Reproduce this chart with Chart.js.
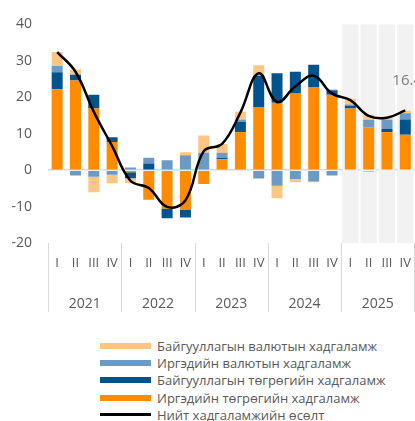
<!DOCTYPE html>
<html>
<head>
<meta charset="utf-8">
<script src="https://cdn.jsdelivr.net/npm/chart.js@4.4.1/dist/chart.umd.min.js"></script>
<style>
    body { margin: 0; background: #fff; width: 415px; height: 421px; overflow: hidden; }
    #wrap { position: relative; width: 415px; height: 325px; }
    #legend { padding: 12px 0 0 100px; font-family: "Open Sans", sans-serif; font-size: 13px; color: #595959; }
    .item { display: flex; align-items: center; height: 17.3px; white-space: nowrap; }
    .swatch { width: 51px; margin-right: 6px; }
</style>
</head>
<body>
<div id="wrap"><canvas id="depositChart"></canvas></div>
<div id="legend"></div>
<script>
const years = ['2021', '2022', '2023', '2024', '2025'];
const quarters = ['I', 'II', 'III', 'IV'];
const shadedYear = '2025';

// хувь нэмэр, нэгжээр
const hhMnt = [22.2, 24.6, 16.9, 7.7, -0.6, -8.1, -10.5, -10.8, -3.8, 3.0, 10.4, 17.2, 18.5, 21.2, 22.8, 20.7, 16.9, 11.8, 10.4, 9.7];
const orgMnt = [4.7, 1.6, 3.8, 1.3, -1.6, 1.8, -2.7, -2.2, 0, 0.4, 2.9, 8.7, 8.1, 5.8, 6.1, 1.2, 0.7, -0.3, 0.9, 4.2];
const hhFx = [1.7, -1.5, -1.8, -1.3, 0.7, 1.6, 2.7, 4.1, 4.8, 1.4, 0.6, -2.3, -4.3, -2.4, -3.1, -1.5, 0.4, 2.0, 2.5, 1.7];
const orgFx = [3.8, 1.4, -4.3, -2.3, -1.3, 0, 0, 0.8, 4.7, 2.4, 2.1, 2.9, -3.4, -0.9, -0.2, 0.3, 1.6, 1.3, 0.9, 0.7];
const totalGrowth = [32.4, 27.0, 16.0, 6.6, -2.9, -4.9, -10.1, -8.3, 5.2, 7.2, 15.8, 26.6, 18.7, 23.0, 25.9, 21.0, 19.2, 14.9, 14.4, 16.4];

const labels = years.flatMap(y => quarters.map(q => q));
const yearOf = years.flatMap(y => quarters.map(() => y));

const FONT = '"Open Sans", sans-serif';
const TEXT = '#595959';

const shadePlugin = {
    id: 'shade',
    // саарал дэвсгэр (2025 он)
    beforeDatasetsDraw(chart) {
        const { ctx, chartArea, scales: { x } } = chart;
        const w = x.width / labels.length;
        ctx.save();
        ctx.fillStyle = '#f2f2f2';
        yearOf.forEach((y, i) => {
            if (y !== shadedYear) return;
            const cx = x.getPixelForValue(i);
            ctx.fillRect(cx - w / 2 + 1, chartArea.top, w - 2, chartArea.bottom - chartArea.top);
        });
        ctx.restore();
    },
    // он хоорондын зураас
    afterDraw(chart) {
        const { ctx, chartArea, scales: { x } } = chart;
        const w = x.width / labels.length;
        ctx.save();
        ctx.strokeStyle = '#d9d9d9';
        ctx.lineWidth = 1;
        for (let i = 0; i <= labels.length; i += quarters.length) {
            const px = Math.round(x.getPixelForValue(0) - w / 2 + i * w) + 0.5;
            ctx.beginPath();
            ctx.moveTo(px, chartArea.bottom);
            ctx.lineTo(px, chartArea.bottom + 69);
            ctx.stroke();
        }
        ctx.restore();
    },
    // сүүлийн утга
    afterDatasetsDraw(chart) {
        const idx = chart.data.datasets.findIndex(d => d.type === 'line');
        const meta = chart.getDatasetMeta(idx);
        const last = meta.data[meta.data.length - 1];
        const val = chart.data.datasets[idx].data[meta.data.length - 1];
        const { ctx } = chart;
        ctx.save();
        ctx.font = '15px ' + FONT;
        ctx.fillStyle = '#7f7f7f';
        ctx.textAlign = 'left';
        ctx.textBaseline = 'middle';
        ctx.fillText(val.toFixed(1), last.x - 13, last.y - 30);
        ctx.restore();
    }
};

const barDefaults = { type: 'bar', order: 1, barPercentage: 0.6, categoryPercentage: 1, borderWidth: 0, stack: 'deposits' };

const chart = new Chart(document.getElementById('depositChart'), {
    data: {
        labels: labels,
        datasets: [
            { ...barDefaults, label: 'Иргэдийн төгрөгийн хадгаламж', data: hhMnt, backgroundColor: '#ff8c00' },
            { ...barDefaults, label: 'Байгууллагын төгрөгийн хадгаламж', data: orgMnt, backgroundColor: '#02538c' },
            { ...barDefaults, label: 'Иргэдийн валютын хадгаламж', data: hhFx, backgroundColor: '#6b9bc3' },
            { ...barDefaults, label: 'Байгууллагын валютын хадгаламж', data: orgFx, backgroundColor: '#ffc585' },
            {
                type: 'line', order: 0, stack: 'total',
                label: 'Нийт хадгаламжийн  өсөлт',
                data: totalGrowth,
                borderColor: '#000', borderWidth: 2.5,
                tension: 0.4, pointRadius: 0, fill: false
            }
        ]
    },
    options: {
        responsive: true,
        maintainAspectRatio: false,
        animation: false,
        layout: { padding: { top: 20, left: 0, right: 0, bottom: 0 } },
        plugins: {
            legend: { display: false },
            tooltip: { enabled: false }
        },
        scales: {
            x: {
                stacked: true,
                offset: true,
                grid: { display: false },
                border: { display: false },
                ticks: { color: TEXT, font: { family: FONT, size: 13 }, padding: 4, maxRotation: 0, autoSkip: false },
                afterFit(scale) { scale.height = 30; }
            },
            x2: {
                type: 'category',
                position: 'bottom',
                offset: true,
                labels: years,
                grid: { display: false },
                border: { display: false },
                ticks: { color: TEXT, font: { family: FONT, size: 14 }, padding: 15, maxRotation: 0 },
                afterFit(scale) { scale.height = 52; }
            },
            y: {
                stacked: true,
                min: -20,
                max: 40,
                ticks: { stepSize: 10, color: TEXT, font: { family: FONT, size: 14 }, padding: 16 },
                grid: {
                    drawTicks: false,
                    lineWidth: 1.5,
                    color: ctx => ctx.tick && ctx.tick.value === 0 ? '#d9d9d9' : 'transparent'
                },
                border: { display: false },
                afterFit(scale) { scale.width = 48; }
            }
        }
    },
    plugins: [shadePlugin]
});

// тайлбар
const legendEl = document.getElementById('legend');
const ds = chart.data.datasets;
const order = ds.filter(d => d.type === 'bar').reverse().concat(ds.filter(d => d.type === 'line'));
order.forEach(d => {
    const row = document.createElement('div');
    row.className = 'item';
    const sw = document.createElement('span');
    sw.className = 'swatch';
    const isLine = d.type === 'line';
    sw.style.height = isLine ? '3px' : '6px';
    sw.style.background = isLine ? d.borderColor : d.backgroundColor;
    row.appendChild(sw);
    row.appendChild(document.createTextNode(d.label));
    legendEl.appendChild(row);
});
</script>
</body>
</html>
